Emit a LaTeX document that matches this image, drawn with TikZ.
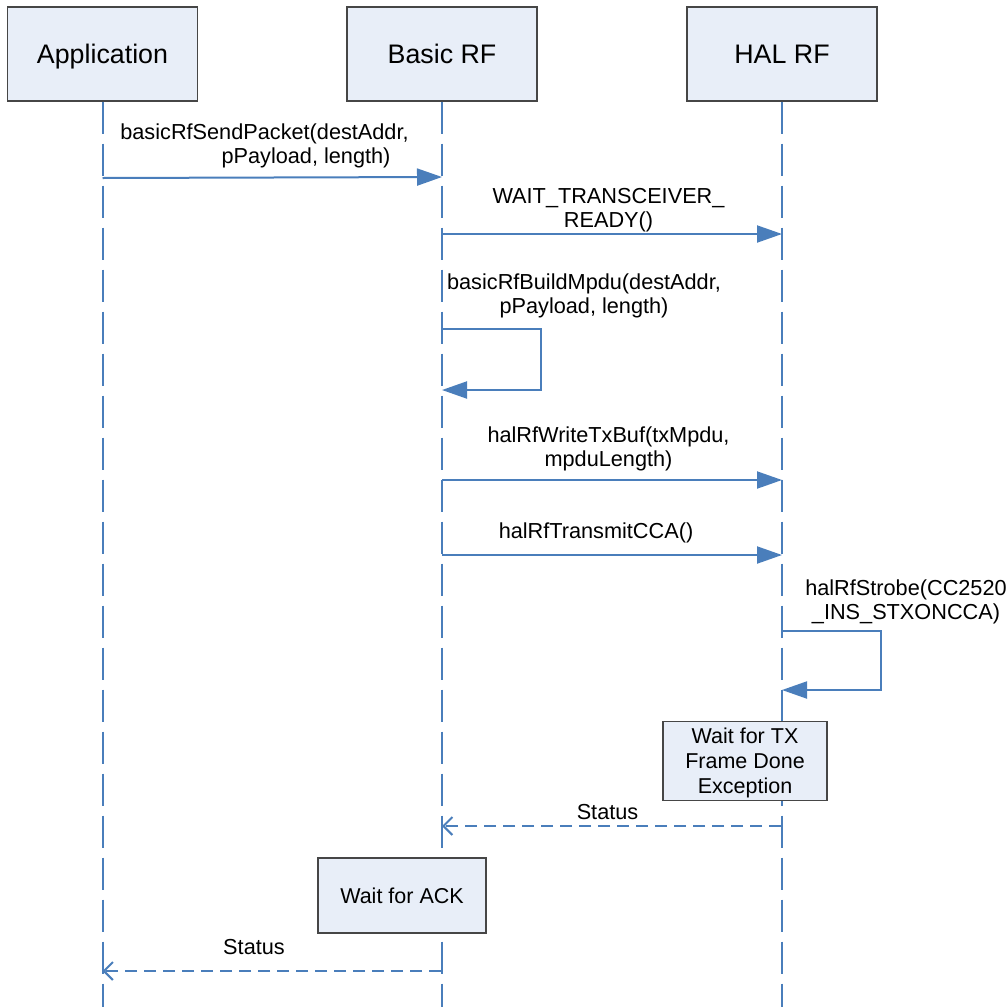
\documentclass[tikz,border=0pt]{standalone}
\usepackage{fontspec}
\setmainfont{Liberation Sans}
\usetikzlibrary{arrows.meta}
\definecolor{lblue}{RGB}{74,126,187}
\definecolor{boxfill}{RGB}{232,238,248}
\definecolor{boxline}{RGB}{70,70,70}
\begin{document}
\begin{tikzpicture}[x=1pt,y=-1pt,
  header/.style={draw=boxline,line width=1.3pt,fill=boxfill,minimum width=190pt,minimum height=94pt,inner sep=0pt,text height=19pt,text depth=0pt,font=\fontsize{26.8}{30}\selectfont},
  waitbox/.style={draw=boxline,line width=1.3pt,fill=boxfill,inner sep=0pt,align=center,font=\fontsize{21.5}{25}\selectfont},
  lbl/.style={inner sep=0pt,align=center,font=\fontsize{21.7}{24.5}\selectfont},
  lifeline/.style={draw=lblue,line width=2pt,dash pattern=on 32pt off 10pt},
  msg/.style={draw=lblue,line width=2pt,-{Triangle[length=25pt,width=17pt]}},
  reply/.style={draw=lblue,line width=2pt,dash pattern=on 12pt off 7pt,-{Straight Barb[length=9pt,width=18pt,line width=2pt]}}
]
\useasboundingbox (0,0) rectangle (1008,1007);
% headers
\node[header] (app) at (102.5,54) {Application};
\node[header] (brf) at (442,54) {Basic RF};
\node[header] (hal) at (782,54) {HAL RF};
% lifeline ends
\coordinate (append) at (102.5,1007);
\coordinate (brfend) at (442,1007);
\coordinate (halend) at (782,1007);
\draw[lifeline] (app.south) -- (append);
\draw[lifeline] (brf.south) -- (brfend);
\draw[lifeline] (hal.south) -- (halend);
% wait boxes
\node[waitbox,minimum width=164pt,minimum height=79pt] (waittx) at (745,761) {\rule{0pt}{20pt}Wait for TX\\Frame Done\\Exception};
\node[waitbox,minimum width=168pt,minimum height=75pt] (waitack) at (402,895.5) {Wait for ACK};
% message coordinates
\coordinate (a1) at (102.5,178);
\coordinate (b1) at (442,177);
\coordinate (b2) at (442,234);
\coordinate (h2) at (782,234);
\coordinate (b3s) at (442,329);
\coordinate (b3e) at (442,390);
\coordinate (l3a) at (541,329);
\coordinate (l3b) at (541,390);
\coordinate (b4) at (442,480);
\coordinate (h4) at (782,480);
\coordinate (b5) at (442,555);
\coordinate (h5) at (782,555);
\coordinate (h6s) at (782,631);
\coordinate (h6e) at (782,690);
\coordinate (l6a) at (881,631);
\coordinate (l6b) at (881,690);
\coordinate (h7) at (781,826);
\coordinate (b7) at (442,826);
\coordinate (b8) at (441,971);
\coordinate (a8) at (102.5,971);
% messages
\draw[msg] (a1) -- (b1);
\node[lbl] (t1a) at (264.5,133.5) {basicRfSendPacket(destAddr,};
\node[lbl] (t1b) at (306,157.5) {pPayload, length)};
\draw[msg] (b2) -- (h2);
\node[lbl] (t2) at (608.5,210) {WAIT\_TRANSCEIVER\_\\READY()};
\draw[msg] (b3s) -- (l3a) -- (l3b) -- (b3e);
\node[lbl] (t3) at (584,296) {basicRfBuildMpdu(destAddr,\\pPayload, length)};
\draw[msg] (b4) -- (h4);
\node[lbl] (t4) at (608.5,449) {halRfWriteTxBuf(txMpdu,\\mpduLength)};
\draw[msg] (b5) -- (h5);
\node[lbl] (t5) at (596,533) {halRfTransmitCCA()};
\draw[msg] (h6s) -- (l6a) -- (l6b) -- (h6e);
\node[lbl] (t6) at (906,602) {halRfStrobe(CC2520\\\_INS\_STXONCCA)};
\draw[reply] (h7) -- (b7);
\node[lbl] (t7) at (607.5,812) {Status};
\draw[reply] (b8) -- (a8);
\node[lbl] (t8) at (254,947) {Status};
\end{tikzpicture}
\end{document}
